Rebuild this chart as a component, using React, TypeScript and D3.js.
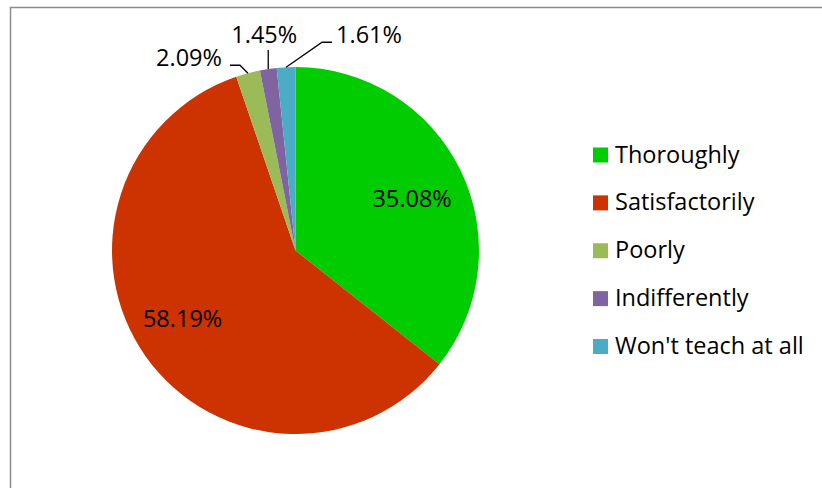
import React from "react";
import * as d3 from "d3";

const categories = ["Thoroughly", "Satisfactorily", "Poorly", "Indifferently", "Won't teach at all"];
const values = [35.08, 58.19, 2.09, 1.45, 1.61];
const colors = ["#00CC00", "#CC3300", "#9BBB59", "#8064A2", "#4BACC6"];

// small "best fit" nudges for the labels drawn inside the big slices
const insideNudge: Record<number, [number, number]> = {
  0: [1, 4.5],
  1: [-8, -6],
};

// callouts for the thin slices: elbow offset from the rim, tail length, text anchor
const callouts: Record<number, { dx: number; dy: number; tail: number; anchor: string }> = {
  2: { dx: -8, dy: -8, tail: -10, anchor: "end" },
  3: { dx: 0, dy: -19, tail: 0, anchor: "middle" },
  4: { dx: 36, dy: -25, tail: 10, anchor: "start" },
};

const W = 822, H = 488;
const cx = 295.5, cy = 250.5, R = 183.5;
const font = "'Open Sans', 'Noto Sans', sans-serif";
const fontSize = 23.5;

export default function App() {
  const pie = d3.pie<number>().sort(null).value((d) => d);
  const arcs = pie(values);
  const arc = d3.arc<d3.PieArcDatum<number>>().innerRadius(0).outerRadius(R);
  const labelArc = d3.arc<d3.PieArcDatum<number>>().innerRadius(R * 0.7).outerRadius(R * 0.7);

  const legendY = d3.scalePoint<string>().domain(categories).range([155, 346.5]);

  return (
    <svg width={W} height={H} style={{ position: "fixed", left: 0, top: 0, background: "#fff" }}>
      <rect x={10.5} y={7.5} width={W} height={H} fill="#fff" stroke="#8c8c8c" strokeWidth={1.5} />
      <g transform={`translate(${cx},${cy})`}>
        {arcs.map((a, i) => (
          <path key={i} d={arc(a) || ""} fill={colors[i]} />
        ))}
        {arcs.map((a, i) => {
          const label = `${values[i].toFixed(2)}%`;
          const c = callouts[i];
          if (!c) {
            const [x, y] = labelArc.centroid(a);
            const [nx, ny] = insideNudge[i] || [0, 0];
            return (
              <text key={i} x={x + nx} y={y + ny + 8} textAnchor="middle" fontFamily={font} fontSize={fontSize} fill="#000">
                {label}
              </text>
            );
          }
          const mid = (a.startAngle + a.endAngle) / 2;
          const px = R * Math.sin(mid), py = -R * Math.cos(mid);
          const ex = px + c.dx, ey = py + c.dy;
          const tx = ex + c.tail;
          const textX = c.anchor === "end" ? tx - 8 : c.anchor === "start" ? tx + 4 : ex - 4;
          const textY = c.anchor === "middle" ? ey - 7 : ey + 1;
          return (
            <g key={i}>
              <polyline points={`${px},${py} ${ex},${ey} ${tx},${ey}`} fill="none" stroke="#000" strokeWidth={1.3} />
              <text x={textX} y={textY} textAnchor={c.anchor} fontFamily={font} fontSize={fontSize} fill="#000">
                {label}
              </text>
            </g>
          );
        })}
      </g>
      <g>
        {categories.map((c, i) => {
          const y = legendY(c) as number;
          return (
            <g key={c}>
              <rect x={593} y={y - 7.5} width={15} height={15} fill={colors[i]} />
              <text x={615} y={y + 7.5} fontFamily={font} fontSize={fontSize} fill="#000">
                {c}
              </text>
            </g>
          );
        })}
      </g>
    </svg>
  );
}
